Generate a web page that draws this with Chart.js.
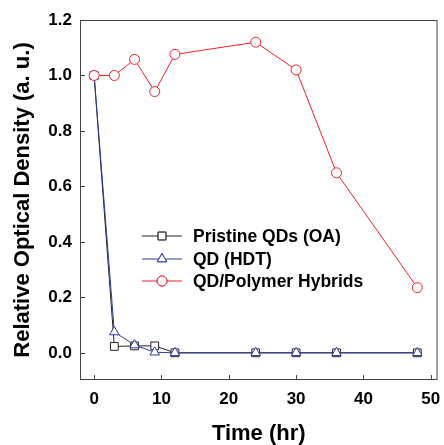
<!DOCTYPE html>
<html>
<head>
<meta charset="utf-8">
<script src="https://cdn.jsdelivr.net/npm/chart.js@4.4.1/dist/chart.umd.min.js"></script>
<style>
  html, body { margin: 0; padding: 0; background: #fff; overflow: hidden; }
  canvas { display: block; }
</style>
</head>
<body>
<canvas id="odChart" width="444" height="445"></canvas>
<script>
// hours sampled
const times = [0, 3, 6, 9, 12, 24, 30, 36, 48];
const pristine = [1.0, 0.023, 0.025, 0.025, 0, 0, 0, 0, 0];
const hdt = [1.0, 0.075, 0.028, 0.002, 0, 0, 0, 0, 0];
const hybrids = [1.0, 1.0, 1.058, 0.942, 1.076, 1.12, 1.02, 0.649, 0.235];
const seriesNames = ['Pristine QDs (OA)', 'QD (HDT)', 'QD/Polymer Hybrids'];
const xTicks = [0, 10, 20, 30, 40, 50];
const yTicks = [0, 0.2, 0.4, 0.6, 0.8, 1.0, 1.2];

const FONT = 'Liberation Sans, Arial, sans-serif';

function toPoints(ys) {
    return times.map(function (t, i) { return { x: t, y: ys[i] }; });
}

// frame + inward ticks + legend with line and marker
const framePlugin = {
    id: 'frame',
    afterDraw: function (chart) {
        const ctx = chart.ctx;
        const a = chart.chartArea;
        const xs = chart.scales.x, ys = chart.scales.y;
        ctx.save();
        ctx.strokeStyle = '#444';
        ctx.lineWidth = 1;
        ctx.strokeRect(a.left + 0.5, a.top + 0.5, a.right - a.left - 1, a.bottom - a.top - 1);
        ctx.beginPath();
        xTicks.forEach(function (v) {
            const px = Math.round(xs.getPixelForValue(v)) + 0.5;
            ctx.moveTo(px, a.bottom);
            ctx.lineTo(px, a.bottom - 5);
        });
        yTicks.forEach(function (v) {
            const py = Math.round(ys.getPixelForValue(v)) + 0.5;
            ctx.moveTo(a.left, py);
            ctx.lineTo(a.left + 5, py);
        });
        ctx.stroke();

        // legend
        const rows = [236, 259, 281];
        chart.data.datasets.forEach(function (ds, i) {
            const y = rows[i];
            ctx.strokeStyle = ds.borderColor;
            ctx.lineWidth = 1;
            ctx.beginPath();
            ctx.moveTo(142, y);
            ctx.lineTo(182, y);
            ctx.stroke();
            ctx.fillStyle = '#fff';
            Chart.helpers.drawPoint(ctx, {
                pointStyle: ds.pointStyle,
                radius: ds.pointRadius,
                borderWidth: 1
            }, 162, y);
            ctx.fill();
            ctx.stroke();
            ctx.fillStyle = '#000';
            ctx.font = 'bold 17.5px ' + FONT;
            ctx.textBaseline = 'middle';
            ctx.fillText(ds.label, 193, y + 1);
        });
        ctx.restore();
    }
};

new Chart(document.getElementById('odChart'), {
    type: 'line',
    data: {
        datasets: [{
            label: seriesNames[0],
            data: toPoints(pristine),
            borderColor: '#222',
            backgroundColor: '#fff',
            pointStyle: 'rect',
            pointRadius: 5.5,
            borderWidth: 1,
            pointBorderWidth: 1,
            order: 2
        }, {
            label: seriesNames[1],
            data: toPoints(hdt),
            borderColor: '#2b3a98',
            backgroundColor: '#fff',
            pointStyle: 'triangle',
            pointRadius: 5.5,
            borderWidth: 1,
            pointBorderWidth: 1,
            order: 1
        }, {
            label: seriesNames[2],
            data: toPoints(hybrids),
            borderColor: '#f0202a',
            backgroundColor: '#fff',
            pointStyle: 'circle',
            pointRadius: 5,
            borderWidth: 1,
            pointBorderWidth: 1,
            order: 0
        }]
    },
    options: {
        responsive: false,
        animation: false,
        layout: { padding: { top: 20, right: 4, left: 0, bottom: 0 } },
        plugins: {
            legend: { display: false },
            tooltip: { enabled: false }
        },
        scales: {
            x: {
                type: 'linear',
                min: -2.1,
                max: 51,
                afterFit: function (s) {
                    s.height = 65;
                    s.paddingLeft = 0;
                    s.paddingRight = 0;
                },
                afterBuildTicks: function (s) { s.ticks = xTicks.map(function (v) { return { value: v }; }); },
                grid: { display: false, drawTicks: false },
                border: { display: false },
                ticks: {
                    color: '#000',
                    padding: 9,
                    font: { family: FONT, size: 17, weight: 'bold' }
                },
                title: {
                    display: true,
                    text: 'Time (hr)',
                    color: '#000',
                    padding: { top: 0, bottom: 0 },
                    font: { family: FONT, size: 22, weight: 'bold', lineHeight: 1 }
                }
            },
            y: {
                type: 'linear',
                min: -0.098,
                max: 1.2,
                afterFit: function (s) {
                    s.width = 80;
                    s.paddingTop = 0;
                    s.paddingBottom = 0;
                },
                afterBuildTicks: function (s) { s.ticks = yTicks.map(function (v) { return { value: v }; }); },
                grid: { display: false, drawTicks: false },
                border: { display: false },
                ticks: {
                    color: '#000',
                    padding: 8,
                    font: { family: FONT, size: 17, weight: 'bold' },
                    callback: function (v) { return v.toFixed(1); }
                },
                title: {
                    display: true,
                    text: 'Relative Optical Density (a. u.)',
                    color: '#000',
                    padding: { top: 12, bottom: 0 },
                    font: { family: FONT, size: 22, weight: 'bold', lineHeight: 1 }
                }
            }
        }
    },
    plugins: [framePlugin]
});
</script>
</body>
</html>
